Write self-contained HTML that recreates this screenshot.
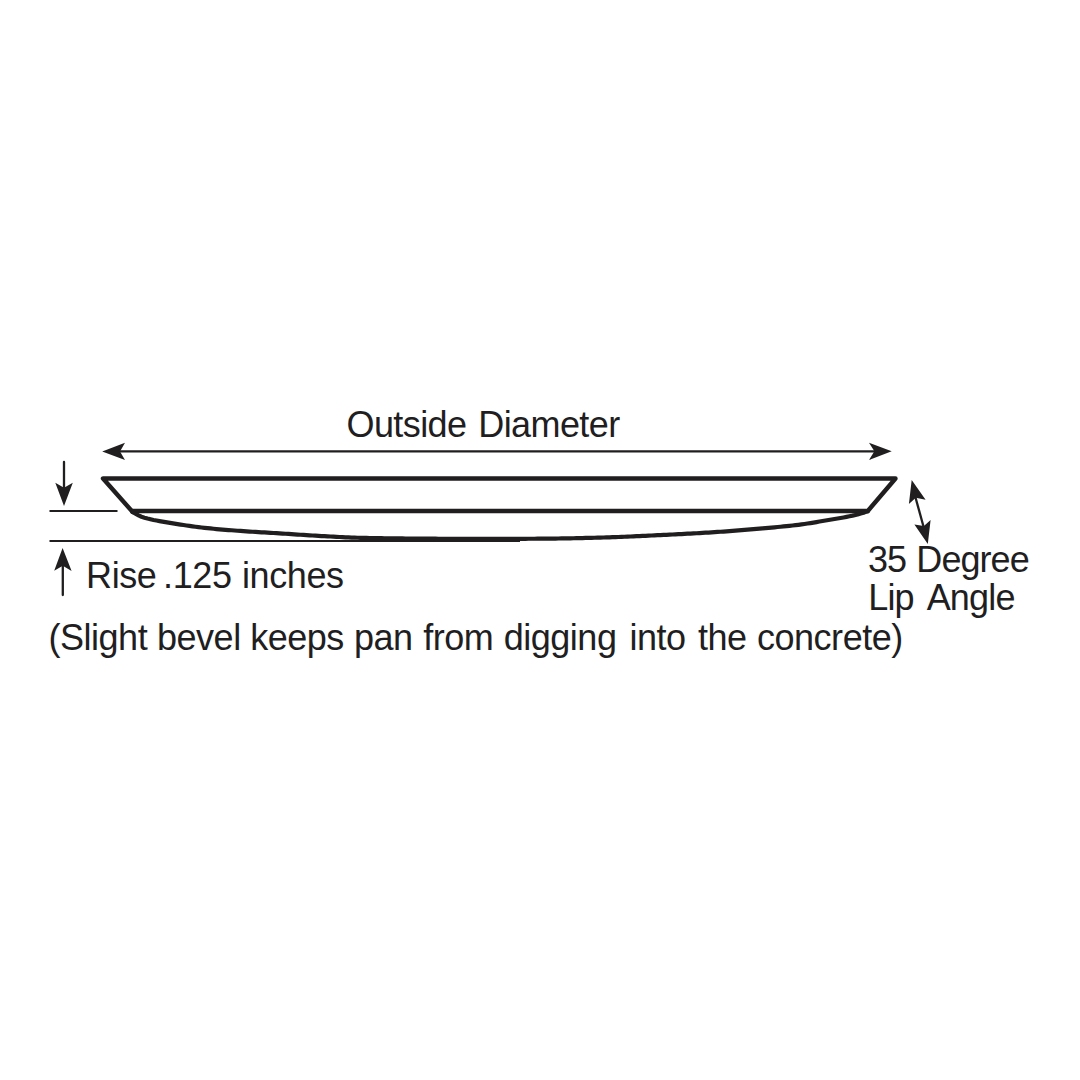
<!DOCTYPE html>
<html><head><meta charset="utf-8">
<style>
html,body{margin:0;padding:0;background:#fff;}
body{width:1080px;height:1080px;overflow:hidden;position:relative;}
svg{position:absolute;left:0;top:0;}
text{font-family:"Liberation Sans",sans-serif;fill:#211e1f;}
</style></head><body>
<svg width="1080" height="1080" viewBox="0 0 1080 1080">
<g fill="none" stroke="#211e1f" stroke-linejoin="round" stroke-linecap="round">
  <!-- pan outline -->
  <path d="M132.5 511.8 L103 478.5 L895.5 478.5 L867.8 511" stroke-width="4.4"/>
  <path d="M132.5 511 L866 511" stroke-width="4.7"/>
  <!-- curved bottom -->
  <path d="M132.5 512.00 L135.5 513.77 L138.5 515.42 L141.5 516.73 L144.5 517.66 L147.5 518.50 L150.5 519.25 L153.5 519.94 L156.5 520.56 L159.5 521.14 L162.5 521.67 L165.5 522.18 L168.5 522.66 L171.5 523.14 L174.5 523.62 L177.5 524.11 L180.5 524.58 L183.5 525.04 L186.5 525.49 L189.5 525.92 L192.5 526.33 L195.5 526.73 L198.5 527.11 L201.5 527.48 L204.5 527.83 L207.5 528.15 L210.5 528.46 L213.5 528.76 L216.5 529.04 L219.5 529.30 L222.5 529.56 L225.5 529.81 L228.5 530.04 L231.5 530.27 L234.5 530.50 L237.5 530.72 L240.5 530.94 L243.5 531.15 L246.5 531.35 L249.5 531.55 L252.5 531.74 L255.5 531.92 L258.5 532.11 L261.5 532.29 L264.5 532.47 L267.5 532.65 L270.5 532.82 L273.5 533.00 L276.5 533.18 L279.5 533.37 L282.5 533.56 L285.5 533.75 L288.5 533.94 L291.5 534.14 L294.5 534.34 L297.5 534.54 L300.5 534.73 L303.5 534.93 L306.5 535.13 L309.5 535.32 L312.5 535.51 L315.5 535.69 L318.5 535.87 L321.5 536.05 L324.5 536.21 L327.5 536.37 L330.5 536.52 L333.5 536.68 L336.5 536.83 L339.5 536.98 L342.5 537.13 L345.5 537.28 L348.5 537.41 L351.5 537.54 L354.5 537.66 L357.5 537.76 L360.5 537.84 L363.5 537.91 L366.5 537.97 L369.5 538.02 L372.5 538.07 L375.5 538.12 L378.5 538.17 L381.5 538.21 L384.5 538.25 L387.5 538.29 L390.5 538.33 L393.5 538.36 L396.5 538.40 L399.5 538.43 L402.5 538.46 L405.5 538.48 L408.5 538.51 L411.5 538.54 L414.5 538.56 L417.5 538.58 L420.5 538.60 L423.5 538.63 L426.5 538.65 L429.5 538.67 L432.5 538.69 L435.5 538.71 L438.5 538.73 L441.5 538.75 L444.5 538.77 L447.5 538.79 L450.5 538.81 L453.5 538.82 L456.5 538.84 L459.5 538.85 L462.5 538.86 L465.5 538.87 L468.5 538.88 L471.5 538.89 L474.5 538.90 L477.5 538.90 L480.5 538.90 L483.5 538.90 L486.5 538.90 L489.5 538.89 L492.5 538.89 L495.5 538.88 L498.5 538.88 L501.5 538.87 L504.5 538.86 L507.5 538.85 L510.5 538.84 L513.5 538.83 L516.5 538.82 L519.5 538.80 L522.5 538.79 L525.5 538.78 L528.5 538.76 L531.5 538.75 L534.5 538.73 L537.5 538.71 L540.5 538.70 L543.5 538.68 L546.5 538.65 L549.5 538.62 L552.5 538.58 L555.5 538.55 L558.5 538.50 L561.5 538.45 L564.5 538.40 L567.5 538.35 L570.5 538.29 L573.5 538.23 L576.5 538.16 L579.5 538.10 L582.5 538.03 L585.5 537.96 L588.5 537.89 L591.5 537.81 L594.5 537.74 L597.5 537.66 L600.5 537.59 L603.5 537.51 L606.5 537.42 L609.5 537.32 L612.5 537.22 L615.5 537.11 L618.5 537.00 L621.5 536.88 L624.5 536.75 L627.5 536.62 L630.5 536.49 L633.5 536.36 L636.5 536.22 L639.5 536.08 L642.5 535.94 L645.5 535.80 L648.5 535.65 L651.5 535.51 L654.5 535.36 L657.5 535.22 L660.5 535.08 L663.5 534.93 L666.5 534.79 L669.5 534.64 L672.5 534.49 L675.5 534.34 L678.5 534.19 L681.5 534.04 L684.5 533.88 L687.5 533.72 L690.5 533.56 L693.5 533.40 L696.5 533.23 L699.5 533.06 L702.5 532.89 L705.5 532.71 L708.5 532.53 L711.5 532.34 L714.5 532.16 L717.5 531.96 L720.5 531.77 L723.5 531.56 L726.5 531.35 L729.5 531.13 L732.5 530.91 L735.5 530.67 L738.5 530.44 L741.5 530.19 L744.5 529.94 L747.5 529.69 L750.5 529.43 L753.5 529.17 L756.5 528.91 L759.5 528.64 L762.5 528.38 L765.5 528.11 L768.5 527.84 L771.5 527.57 L774.5 527.30 L777.5 527.02 L780.5 526.73 L783.5 526.44 L786.5 526.13 L789.5 525.82 L792.5 525.49 L795.5 525.15 L798.5 524.79 L801.5 524.41 L804.5 523.99 L807.5 523.54 L810.5 523.07 L813.5 522.57 L816.5 522.06 L819.5 521.53 L822.5 521.00 L825.5 520.48 L828.5 519.96 L831.5 519.45 L834.5 518.95 L837.5 518.46 L840.5 517.96 L843.5 517.45 L846.5 516.90 L849.5 516.30 L852.5 515.66 L855.5 514.95 L858.5 514.18 L861.5 513.35 L864.5 512.40 L867.8 511.20" stroke-width="4.2"/>
  <!-- thin lines -->
  <line x1="49.5" y1="511" x2="117.5" y2="511" stroke-width="2.2" stroke-linecap="butt"/>
  <line x1="49.5" y1="541" x2="520" y2="541" stroke-width="2.1" stroke-linecap="butt"/>
  <!-- horizontal dimension line -->
  <line x1="115" y1="451.4" x2="880" y2="451.4" stroke-width="2.3" stroke-linecap="butt"/>
  <!-- down arrow line -->
  <line x1="64" y1="462" x2="64" y2="490" stroke-width="2.3"/>
  <line x1="62.8" y1="565" x2="62.8" y2="595" stroke-width="2.3"/>
  <!-- diagonal arrow line -->
  <line x1="914" y1="492" x2="925" y2="532" stroke-width="2.3" stroke-linecap="butt"/>
</g>
<g fill="#211e1f" stroke="none">
  <!-- left arrowhead -->
  <path d="M102.2 451.4 L125 442.8 L120 451.4 L125 460 Z"/>
  <!-- right arrowhead -->
  <path d="M891.7 451.3 L869 442.8 L874.4 451.3 L869 460 Z"/>
  <!-- down arrowhead -->
  <path d="M64 506 L55.3 482.8 L64 487.8 L72.8 482.8 Z"/>
  <!-- up arrowhead -->
  <path d="M62.6 548 L54.2 570.7 L62.8 565.8 L71.6 570.9 Z"/>
  <!-- diagonal arrowheads -->
  <path d="M911.7 480 L908.9 503.9 L915.8 497.8 L925.6 499.8 Z"/>
  <path d="M927.8 543.9 L914.4 524.4 L923.9 526 L930.6 520 Z"/>
</g>
<text y="437" font-size="36" letter-spacing="-0.584"><tspan x="346.49">Outside</tspan><tspan x="478.25">Diameter</tspan></text>
<text y="588" font-size="36" letter-spacing="-0.391"><tspan x="86.05">Rise</tspan><tspan x="163.11">.125</tspan><tspan x="241.99">inches</tspan></text>
<text y="650" font-size="36" letter-spacing="-0.475"><tspan x="48.47">(Slight</tspan><tspan x="156.98">bevel</tspan><tspan x="250.17">keeps</tspan><tspan x="353.98">pan</tspan><tspan x="423.19">from</tspan><tspan x="503.69">digging</tspan><tspan x="629.49">into</tspan><tspan x="697.96">the</tspan><tspan x="756.97">concrete)</tspan></text>
<text y="572" font-size="36" letter-spacing="-0.944"><tspan x="867.93">35</tspan><tspan x="916.35">Degree</tspan></text>
<text y="610" font-size="36" letter-spacing="-0.776"><tspan x="868.15">Lip</tspan><tspan x="926.63">Angle</tspan></text>

</svg>
</body></html>
